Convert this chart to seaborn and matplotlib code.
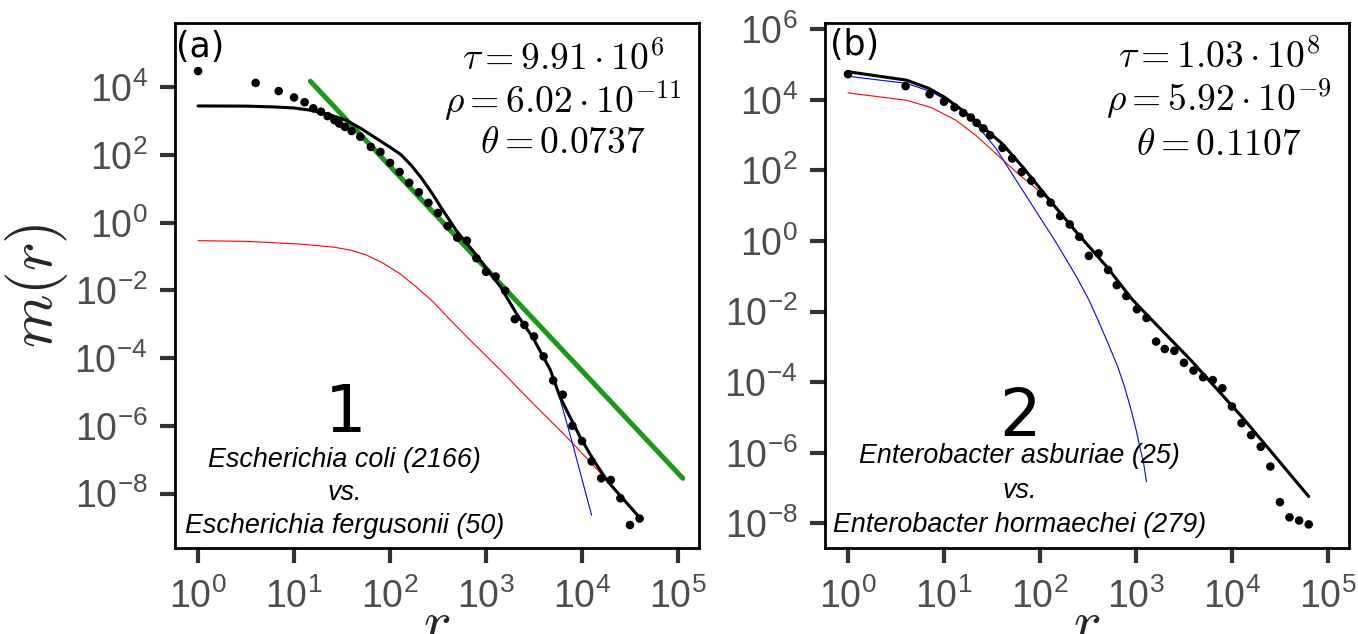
import numpy as np
import matplotlib
matplotlib.use("Agg")
import matplotlib.pyplot as plt
import seaborn as sns
from matplotlib import font_manager
from matplotlib.ticker import FixedLocator, NullLocator, LogFormatterSciNotation

# ---------------- data (log10 values) ----------------
# Panel (a)
a_dot_logr = [0.00, 0.60, 0.84, 1.00, 1.11, 1.20, 1.28, 1.35, 1.42, 1.47, 1.53, 1.60,
              1.69, 1.80, 1.90, 2.00, 2.10, 2.20, 2.30, 2.40, 2.50, 2.60, 2.70, 2.80,
              2.90, 3.00, 3.10, 3.20, 3.30, 3.40, 3.50, 3.60, 3.70, 3.80, 3.90, 4.00,
              4.10, 4.20, 4.30, 4.40, 4.50, 4.60]
a_dot_logm = [4.48, 4.13, 3.89, 3.70, 3.56, 3.38, 3.28, 3.15, 3.03, 2.93, 2.83, 2.71,
              2.54, 2.24, 2.09, 1.77, 1.50, 1.18, 0.90, 0.59, 0.29, -0.10, -0.44, -0.53,
              -1.05, -1.45, -1.59, -2.01, -2.85, -3.02, -3.36, -3.95, -4.66, -5.08, -6.00, -6.45,
              -7.05, -7.55, -7.60, -8.14, -8.93, -8.74]
a_fit_logr = [0.00, 0.50, 0.80, 1.00, 1.18, 1.36, 1.54, 1.70, 1.83, 2.00, 2.11, 2.22,
              2.33, 2.44, 2.55, 2.69, 2.90, 3.15, 3.32, 3.49, 3.67, 3.77, 3.84, 3.98,
              4.12, 4.27, 4.60]
a_fit_logm = [3.45, 3.445, 3.42, 3.39, 3.32, 3.20, 3.03, 2.78, 2.54, 2.23, 2.02, 1.70,
              1.31, 0.86, 0.37, -0.23, -0.96, -1.89, -2.70, -3.40, -4.35, -5.14, -5.54, -6.33,
              -7.01, -7.65, -8.71]
a_blue_logr = [0.00, 0.50, 0.80, 1.00, 1.18, 1.36, 1.54, 1.70, 1.83, 2.00, 2.11, 2.22,
               2.33, 2.44, 2.55, 2.69, 2.90, 3.15, 3.32, 3.49, 3.67, 3.77, 3.91, 3.97, 4.10]
a_blue_logm = [3.45, 3.445, 3.42, 3.39, 3.32, 3.20, 3.03, 2.78, 2.54, 2.23, 2.02, 1.70,
               1.31, 0.86, 0.37, -0.23, -0.96, -1.89, -2.70, -3.40, -4.35, -5.19, -6.62,
               -7.26, -8.64]
a_red_logr = [0.00, 0.50, 1.06, 1.41, 1.59, 1.76, 1.93, 2.10, 2.27, 2.45, 2.62, 2.80,
              3.15, 3.49, 3.84, 4.05, 4.27, 4.60]
a_red_logm = [-0.53, -0.55, -0.63, -0.72, -0.81, -0.96, -1.20, -1.50, -1.89, -2.34, -2.85,
              -3.37, -4.35, -5.34, -6.33, -6.96, -7.63, -8.69]
a_green_logr = [1.17, 5.05]
a_green_logm = [4.18, -7.55]

# Panel (b)
b_dot_logr = [0.00, 0.60, 0.85, 1.00, 1.11, 1.20, 1.28, 1.34, 1.41, 1.48, 1.61, 1.71,
              1.81, 1.91, 2.01, 2.11, 2.21, 2.31, 2.41, 2.51, 2.61, 2.71, 2.80, 2.90,
              3.01, 3.11, 3.21, 3.30, 3.40, 3.50, 3.60, 3.70, 3.80, 3.90, 4.00, 4.10,
              4.20, 4.30, 4.40, 4.50, 4.60, 4.70, 4.80]
b_dot_logm = [4.73, 4.39, 4.16, 3.95, 3.79, 3.63, 3.50, 3.35, 3.19, 3.00, 2.64, 2.34,
              1.96, 1.71, 1.35, 1.09, 0.71, 0.47, 0.12, -0.42, -0.35, -0.82, -1.25, -1.56,
              -1.93, -2.18, -2.85, -3.06, -3.11, -3.45, -3.67, -3.86, -3.94, -4.17, -4.69, -5.16,
              -5.50, -5.83, -6.39, -7.40, -7.83, -7.92, -8.03]
b_fit_logr = [0.00, 0.61, 0.84, 1.01, 1.19, 1.40, 1.61, 1.82, 2.10, 2.38, 2.70, 2.95,
              3.11, 3.58, 4.11, 4.80]
b_fit_logm = [4.80, 4.56, 4.33, 4.07, 3.71, 3.24, 2.75, 2.10, 1.16, 0.25, -0.74, -1.62,
              -2.08, -3.40, -5.00, -7.24]
b_blue_logr = [0.00, 0.61, 0.87, 1.12, 1.33, 1.54, 1.75, 1.96, 2.17, 2.38, 2.51, 2.60,
               2.70, 2.81, 2.88, 2.95, 3.00, 3.04, 3.08, 3.11]
b_blue_logm = [4.67, 4.47, 4.23, 3.85, 3.33, 2.63, 1.73, 0.84, -0.05, -1.01, -1.67, -2.21,
               -2.84, -3.56, -4.12, -4.79, -5.33, -5.83, -6.30, -6.82]
b_red_logr = [0.00, 0.61, 0.87, 1.12, 1.33, 1.54, 1.75, 1.96, 2.17, 2.38, 2.70, 2.95,
              3.11, 3.58, 4.11, 4.80]
b_red_logm = [4.20, 3.99, 3.78, 3.43, 3.00, 2.48, 1.96, 1.49, 0.97, 0.22, -0.76, -1.64,
              -2.10, -3.42, -5.02, -7.26]

a_params = [r"$\tau = 9.91 \cdot 10^{6}$", r"$\rho = 6.02 \cdot 10^{-11}$", r"$\theta = 0.0737$"]
b_params = [r"$\tau = 1.03 \cdot 10^{8}$", r"$\rho = 5.92 \cdot 10^{-9}$", r"$\theta = 0.1107$"]
a_species = ["Escherichia coli (2166)", "vs.", "Escherichia fergusonii (50)"]
b_species = ["Enterobacter asburiae (25)", "vs.", "Enterobacter hormaechei (279)"]
xtick_exp = [0, 1, 2, 3, 4, 5]
a_ytick_exp = [-8, -6, -4, -2, 0, 2, 4]
b_ytick_exp = [-8, -6, -4, -2, 0, 2, 4, 6]

# ---------------- style ----------------
sns.set_theme(style="ticks")
names = {f.name for f in font_manager.fontManager.ttflist}
tick_font = "Liberation Sans Narrow" if "Liberation Sans Narrow" in names else "Liberation Sans"
plt.rcParams["font.family"] = [tick_font, "DejaVu Sans"]
plt.rcParams["mathtext.fontset"] = "cm"
plt.rcParams["axes.unicode_minus"] = True

fig = plt.figure(figsize=(13.58, 6.34), dpi=100)
ax_a = fig.add_axes([0.1289, 0.1356, 0.3859, 0.8281])
ax_b = fig.add_axes([0.6075, 0.1356, 0.3859, 0.8281])

GREEN = "#1a9a1a"


def p(v):
    return 10.0 ** np.asarray(v, dtype=float)


def draw(ax, dots, fit, blue, red, green=None):
    ax.set_xscale("log")
    ax.set_yscale("log")
    sns.lineplot(x=p(red[0]), y=p(red[1]), ax=ax, color="red", linewidth=0.8,
                 estimator=None, sort=False, zorder=2)
    sns.lineplot(x=p(blue[0]), y=p(blue[1]), ax=ax, color="blue", linewidth=0.8,
                 estimator=None, sort=False, zorder=2)
    if green is not None:
        sns.lineplot(x=p(green[0]), y=p(green[1]), ax=ax, color=GREEN, linewidth=3.6,
                     estimator=None, sort=False, zorder=3)
    sns.lineplot(x=p(fit[0]), y=p(fit[1]), ax=ax, color="black", linewidth=2.2,
                 estimator=None, sort=False, zorder=4)
    sns.scatterplot(x=p(dots[0]), y=p(dots[1]), ax=ax, color="black", s=38,
                    edgecolor="none", linewidth=0, zorder=5)


draw(ax_a, (a_dot_logr, a_dot_logm), (a_fit_logr, a_fit_logm),
     (a_blue_logr, a_blue_logm), (a_red_logr, a_red_logm), (a_green_logr, a_green_logm))
draw(ax_b, (b_dot_logr, b_dot_logm), (b_fit_logr, b_fit_logm),
     (b_blue_logr, b_blue_logm), (b_red_logr, b_red_logm))

ax_a.set_ylim(10 ** -9.61, 10 ** 5.90)
ax_b.set_ylim(10 ** -8.70, 10 ** 6.18)

for ax, yexp in ((ax_a, a_ytick_exp), (ax_b, b_ytick_exp)):
    ax.set_xlim(10 ** -0.24, 10 ** 5.22)
    ax.xaxis.set_major_locator(FixedLocator([10.0 ** k for k in xtick_exp]))
    ax.yaxis.set_major_locator(FixedLocator([10.0 ** k for k in yexp]))
    ax.xaxis.set_major_formatter(LogFormatterSciNotation())
    ax.yaxis.set_major_formatter(LogFormatterSciNotation())
    ax.xaxis.set_minor_locator(NullLocator())
    ax.yaxis.set_minor_locator(NullLocator())
    ax.tick_params(axis="both", which="major", length=10.8, width=3, color="#333333",
                   labelcolor="#4d4d4d", labelsize=27)
    ax.tick_params(axis="x", pad=11)
    ax.tick_params(axis="y", pad=9)
    for s in ax.spines.values():
        s.set_linewidth(2.0)
        s.set_color("black")
    ax.set_xlabel("$r$", fontsize=42, labelpad=-12)
    ax.set_ylabel("")
    if ax.get_legend() is not None:
        ax.get_legend().remove()

ax_a.set_ylabel("$m(r)$", fontsize=44, labelpad=3)

# panel letters
ax_a.text(0.002, 0.987, "(a)", transform=ax_a.transAxes, ha="left", va="top",
          fontsize=25, family="DejaVu Sans", color="black")
ax_b.text(0.0095, 0.99, "(b)", transform=ax_b.transAxes, ha="left", va="top",
          fontsize=25, family="DejaVu Sans", color="black")

# parameter texts
for ax, lines, cx, ys in ((ax_a, a_params, 0.740, (0.910, 0.829, 0.752)),
                          (ax_b, b_params, 0.752, (0.914, 0.833, 0.749))):
    for t, yy in zip(lines, ys):
        ax.text(cx, yy, t, transform=ax.transAxes, ha="center", va="baseline",
                fontsize=27, color="black")

# big numbers
ax_a.text(0.326, 0.221, "1", transform=ax_a.transAxes, ha="center", va="baseline",
          fontsize=47, family="DejaVu Sans", color="black")
ax_b.text(0.372, 0.214, "2", transform=ax_b.transAxes, ha="center", va="baseline",
          fontsize=47, family="DejaVu Sans", color="black")

# species names
for ax, lines, cx, ys in ((ax_a, a_species, 0.3235, (0.1543, 0.0914, 0.0286)),
                          (ax_b, b_species, 0.372, (0.1619, 0.0952, 0.0305))):
    for t, yy in zip(lines, ys):
        ax.text(cx, yy, t, transform=ax.transAxes, ha="center", va="baseline",
                fontsize=19.4, family="Liberation Sans", style="italic", color="black")

fig.savefig("out.png", dpi=100)
